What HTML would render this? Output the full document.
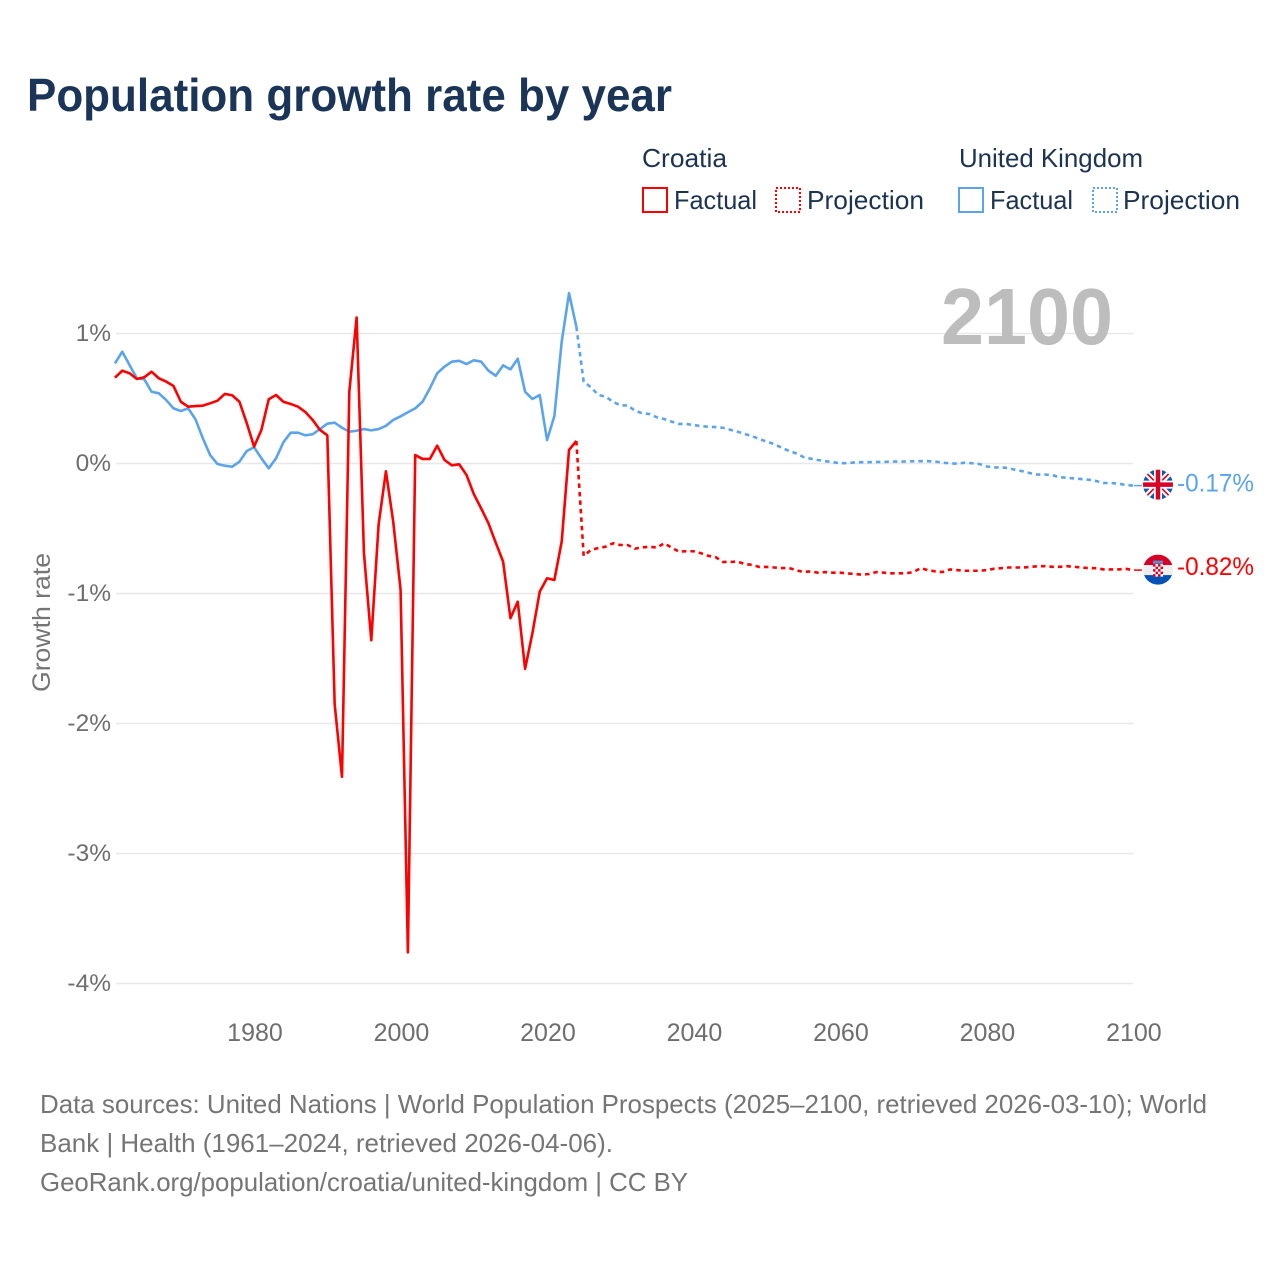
<!DOCTYPE html>
<html lang="en">
<head>
<meta charset="utf-8">
<title>Population growth rate by year</title>
<style>
html,body{margin:0;padding:0;background:#fff;}
svg{display:block;font-family:"Liberation Sans",sans-serif;}
.leg{font-size:26px;fill:#1c3352;}
.foot{font-size:26px;fill:#757575;}
</style>
</head>
<body>
<svg id="chart" xmlns="http://www.w3.org/2000/svg" width="1280" height="1280" viewBox="0 0 1280 1280">
  <rect width="1280" height="1280" fill="#fff"/>
  <text x="27" y="111" font-size="46" font-weight="700" fill="#1a3557" textLength="645" lengthAdjust="spacingAndGlyphs">Population growth rate by year</text>

  <g>
    <text class="leg" x="642" y="167" textLength="85" lengthAdjust="spacingAndGlyphs">Croatia</text>
    <text class="leg" x="959" y="167" textLength="184" lengthAdjust="spacingAndGlyphs">United Kingdom</text>
    <rect x="643" y="188" width="24" height="24" fill="none" stroke="#ff0000" stroke-width="2"/>
    <text class="leg" x="674" y="209" textLength="83" lengthAdjust="spacingAndGlyphs">Factual</text>
    <rect x="776" y="188" width="24" height="24" fill="none" stroke="#ff0000" stroke-width="2" stroke-dasharray="2 2"/>
    <text class="leg" x="807" y="209" textLength="117" lengthAdjust="spacingAndGlyphs">Projection</text>
    <rect x="959" y="188" width="24" height="24" fill="none" stroke="#5ba4ec" stroke-width="2"/>
    <text class="leg" x="990" y="209" textLength="83" lengthAdjust="spacingAndGlyphs">Factual</text>
    <rect x="1093" y="188" width="24" height="24" fill="none" stroke="#5ba4ec" stroke-width="2" stroke-dasharray="2 2"/>
    <text class="leg" x="1123" y="209" textLength="117" lengthAdjust="spacingAndGlyphs">Projection</text>
  </g>

  <g id="grid"></g>
  <g id="y-ticks"></g>
  <g id="x-ticks"></g>

  <text transform="translate(50,692) rotate(-90)" font-size="25" fill="#757575" textLength="139" lengthAdjust="spacingAndGlyphs">Growth rate</text>
  <text x="941" y="344" font-size="80" font-weight="700" fill="#bdbdbd" textLength="172" lengthAdjust="spacingAndGlyphs">2100</text>

  <g id="series"></g>

  <defs>
    <clipPath id="flag-clip"><circle cx="0" cy="0" r="15"/></clipPath>
  </defs>

  <g id="flag-uk">
    <g clip-path="url(#flag-clip)">
      <rect x="-15" y="-15" width="30" height="30" fill="#0b57b5"/>
      <path d="M-15 -15L15 15M15 -15L-15 15" stroke="#fff" stroke-width="6"/>
      <path d="M-15 -15L15 15M15 -15L-15 15" stroke="#d80027" stroke-width="1.6"/>
      <path d="M0 -15V15M-15 0H15" stroke="#fff" stroke-width="8"/>
      <path d="M0 -15V15M-15 0H15" stroke="#d80027" stroke-width="4.5"/>
    </g>
  </g>
  <g id="flag-hr">
    <g clip-path="url(#flag-clip)">
      <rect x="-15" y="-15" width="30" height="10.5" fill="#d80027"/>
      <rect x="-15" y="-4.5" width="30" height="10" fill="#eeeeee"/>
      <rect x="-15" y="5.5" width="30" height="10" fill="#0052b4"/>
      <rect x="-5" y="-5.5" width="10" height="12.5" fill="#fff"/>
      <path d="M-5 -5.5h2.5v2.5h-2.5zM0 -5.5h2.5v2.5h-2.5zM-2.5 -3h2.5v2.5h-2.5zM2.5 -3h2.5v2.5h-2.5zM-5 -0.5h2.5v2.5h-2.5zM0 -0.5h2.5v2.5h-2.5zM-2.5 2h2.5v2.5h-2.5zM2.5 2h2.5v2.5h-2.5zM-5 4.5h2.5v2.5h-2.5zM0 4.5h2.5v2.5h-2.5z" fill="#d80027"/>
      <path d="M-5 -9h10v3h-10z" fill="#5b8fd0"/>
    </g>
  </g>
  <g id="end-labels"></g>

  <g>
    <text class="foot" x="40" y="1113" textLength="1167" lengthAdjust="spacingAndGlyphs">Data sources: United Nations | World Population Prospects (2025–2100, retrieved 2026-03-10); World</text>
    <text class="foot" x="40" y="1152" textLength="573" lengthAdjust="spacingAndGlyphs">Bank | Health (1961–2024, retrieved 2026-04-06).</text>
    <text class="foot" x="40" y="1191" textLength="648" lengthAdjust="spacingAndGlyphs">GeoRank.org/population/croatia/united-kingdom | CC BY</text>
  </g>
</svg>
<script>
const factualYears = [1961,1962,1963,1964,1965,1966,1967,1968,1969,1970,1971,1972,1973,1974,1975,1976,1977,1978,1979,1980,1981,1982,1983,1984,1985,1986,1987,1988,1989,1990,1991,1992,1993,1994,1995,1996,1997,1998,1999,2000,2001,2002,2003,2004,2005,2006,2007,2008,2009,2010,2011,2012,2013,2014,2015,2016,2017,2018,2019,2020,2021,2022,2023,2024];
const projectionYears = [2024,2025,2026,2027,2028,2029,2030,2031,2032,2033,2034,2035,2036,2037,2038,2039,2040,2041,2042,2043,2044,2045,2046,2047,2048,2049,2050,2051,2052,2053,2054,2055,2056,2057,2058,2059,2060,2061,2062,2063,2064,2065,2066,2067,2068,2069,2070,2071,2072,2073,2074,2075,2076,2077,2078,2079,2080,2081,2082,2083,2084,2085,2086,2087,2088,2089,2090,2091,2092,2093,2094,2095,2096,2097,2098,2099,2100];
const croatiaFactual = [
  0.66,0.714,0.694,0.65,0.663,0.706,0.655,0.63,0.596,0.475,
  0.437,0.442,0.445,0.463,0.483,0.535,0.525,0.475,0.31,0.13,
  0.258,0.494,0.527,0.475,0.458,0.437,0.396,0.335,0.258,0.217,
  -1.85,-2.41,0.552,1.123,-0.69,-1.36,-0.47,-0.06,-0.45,-0.97,
  -3.76,0.065,0.035,0.035,0.137,0.027,-0.014,-0.006,-0.088,-0.235,
  -0.345,-0.46,-0.61,-0.755,-1.19,-1.063,-1.58,-1.305,-0.986,-0.883,
  -0.896,-0.6,0.104,0.173];
const croatiaProjection = [0.173,
  -0.71,-0.665,-0.65,-0.64,-0.614,-0.627,-0.627,-0.655,-0.645,-0.64,
  -0.647,-0.614,-0.647,-0.678,-0.675,-0.675,-0.69,-0.71,-0.72,-0.757,
  -0.757,-0.755,-0.773,-0.78,-0.796,-0.796,-0.80,-0.804,-0.804,-0.82,
  -0.835,-0.83,-0.84,-0.835,-0.84,-0.84,-0.845,-0.85,-0.855,-0.85,
  -0.835,-0.84,-0.845,-0.845,-0.845,-0.835,-0.805,-0.82,-0.83,-0.835,
  -0.815,-0.82,-0.825,-0.825,-0.825,-0.82,-0.81,-0.805,-0.80,-0.80,
  -0.80,-0.795,-0.79,-0.79,-0.795,-0.795,-0.79,-0.795,-0.80,-0.805,
  -0.805,-0.815,-0.815,-0.815,-0.81,-0.82];
const ukFactual = [
  0.77,0.86,0.757,0.655,0.648,0.552,0.54,0.488,0.424,0.404,
  0.424,0.34,0.194,0.065,-0.004,-0.017,-0.025,0.014,0.096,0.125,
  0.04,-0.037,0.04,0.163,0.237,0.237,0.217,0.225,0.265,0.306,
  0.314,0.275,0.245,0.252,0.265,0.255,0.265,0.29,0.335,0.363,
  0.394,0.424,0.475,0.578,0.694,0.745,0.783,0.79,0.765,0.794,
  0.783,0.714,0.675,0.755,0.724,0.806,0.552,0.496,0.527,0.18,
  0.365,0.937,1.31,1.052];
const ukProjection = [1.052,
  0.63,0.586,0.527,0.514,0.475,0.447,0.447,0.406,0.386,0.38,
  0.355,0.342,0.322,0.304,0.304,0.296,0.288,0.283,0.28,0.275,
  0.26,0.245,0.227,0.21,0.188,0.168,0.15,0.122,0.098,0.078,
  0.05,0.037,0.027,0.018,0.01,0.002,0.003,0.008,0.01,0.01,
  0.012,0.012,0.015,0.015,0.015,0.018,0.018,0.018,0.015,0.006,
  0.002,-0.002,0.006,0.002,-0.004,-0.022,-0.03,-0.03,-0.035,-0.05,
  -0.06,-0.075,-0.085,-0.085,-0.09,-0.105,-0.11,-0.115,-0.12,-0.125,
  -0.135,-0.15,-0.15,-0.155,-0.165,-0.17];
const yTickValues = [1,0,-1,-2,-3,-4];
const yTickLabels = ["1%","0%","-1%","-2%","-3%","-4%"];
const xTickValues = [1980,2000,2020,2040,2060,2080,2100];
const xTickLabels = ["1980","2000","2020","2040","2060","2080","2100"];

const NS = "http://www.w3.org/2000/svg";
const RED = "#ff0000";
const BLUE = "#5ba4ec";
function xScale(v){ return 115.83 + (v - 1961) * (1133.9 - 115.83) / (2100 - 1961); }
function yScale(v){ return 463.5 - v * 130; }
function make(tag, parent){
  const el = document.createElementNS(NS, tag);
  parent.appendChild(el);
  return el;
}
function pathFrom(years, values){
  return values.map(function(v, i){
    return (i ? "L" : "M") + (xScale(years[i]) - 0.9).toFixed(2) + " " + yScale(v).toFixed(2);
  }).join("");
}

const grid = document.getElementById("grid");
const yTicks = document.getElementById("y-ticks");
const xTicks = document.getElementById("x-ticks");
const seriesGroup = document.getElementById("series");
const endLabels = document.getElementById("end-labels");

yTickValues.forEach(function(v, i){
  const line = make("line", grid);
  
  
  line.setAttribute("x1", xScale(1961));
  line.setAttribute("x2", xScale(2100) - 0.5);
  line.setAttribute("y1", yScale(v));
  line.setAttribute("y2", yScale(v));
  line.setAttribute("stroke", "#e8e8e8");
  line.setAttribute("stroke-width", "1.5");
  const t = make("text", yTicks);
  
  
  t.setAttribute("x", 111);
  t.setAttribute("y", yScale(v) + 7.5);
  t.setAttribute("text-anchor", "end");
  t.setAttribute("font-size", "24.5");
  t.setAttribute("fill", "#6e6e6e");
  t.textContent = yTickLabels[i];
});

xTickValues.forEach(function(v, i){
  const t = make("text", xTicks);
  
  
  t.setAttribute("x", xScale(v));
  t.setAttribute("y", 1041);
  t.setAttribute("text-anchor", "middle");
  t.setAttribute("font-size", "25");
  t.setAttribute("fill", "#6e6e6e");
  t.textContent = xTickLabels[i];
});

function styleLine(el, color, dashed){
  el.setAttribute("fill", "none");
  el.setAttribute("stroke", color);
  el.setAttribute("stroke-width", "2.6");
  el.setAttribute("stroke-linejoin", "round");
  if (dashed) el.setAttribute("stroke-dasharray", "4.5 4");
}

const ukProjLine = make("path", seriesGroup);


ukProjLine.setAttribute("d", pathFrom(projectionYears, ukProjection));
styleLine(ukProjLine, BLUE, true);

const ukFactLine = make("path", seriesGroup);


ukFactLine.setAttribute("d", pathFrom(factualYears, ukFactual));
styleLine(ukFactLine, BLUE, false);

const hrProjLine = make("path", seriesGroup);


hrProjLine.setAttribute("d", pathFrom(projectionYears, croatiaProjection));
styleLine(hrProjLine, RED, true);

const hrFactLine = make("path", seriesGroup);


hrFactLine.setAttribute("d", pathFrom(factualYears, croatiaFactual));
styleLine(hrFactLine, RED, false);

const ukEnd = ukProjection[ukProjection.length - 1];
const hrEnd = croatiaProjection[croatiaProjection.length - 1];

const ukLeader = make("line", seriesGroup);


ukLeader.setAttribute("x1", xScale(2100));
ukLeader.setAttribute("x2", xScale(2100) + 8);
ukLeader.setAttribute("y1", yScale(ukEnd));
ukLeader.setAttribute("y2", yScale(ukEnd));
ukLeader.setAttribute("stroke", BLUE);
ukLeader.setAttribute("stroke-width", "1.5");

const hrLeader = make("line", seriesGroup);


hrLeader.setAttribute("x1", xScale(2100));
hrLeader.setAttribute("x2", xScale(2100) + 8);
hrLeader.setAttribute("y1", yScale(hrEnd));
hrLeader.setAttribute("y2", yScale(hrEnd));
hrLeader.setAttribute("stroke", RED);
hrLeader.setAttribute("stroke-width", "1.5");

document.getElementById("flag-uk").setAttribute("transform", "translate(1158," + (yScale(ukEnd) - 1) + ")");
document.getElementById("flag-hr").setAttribute("transform", "translate(1158," + (yScale(hrEnd) - 0.5) + ")");

const ukLabel = make("text", endLabels);


ukLabel.setAttribute("x", 1177);
ukLabel.setAttribute("y", yScale(ukEnd) + 6);
ukLabel.setAttribute("font-size", "25");
ukLabel.setAttribute("fill", BLUE);
ukLabel.setAttribute("textLength", "77");
ukLabel.setAttribute("lengthAdjust", "spacingAndGlyphs");
ukLabel.textContent = ukEnd.toFixed(2) + "%";

const hrLabel = make("text", endLabels);


hrLabel.setAttribute("x", 1177);
hrLabel.setAttribute("y", yScale(hrEnd) + 5);
hrLabel.setAttribute("font-size", "25");
hrLabel.setAttribute("fill", RED);
hrLabel.setAttribute("textLength", "77");
hrLabel.setAttribute("lengthAdjust", "spacingAndGlyphs");
hrLabel.textContent = hrEnd.toFixed(2) + "%";
</script>
</body>
</html>
